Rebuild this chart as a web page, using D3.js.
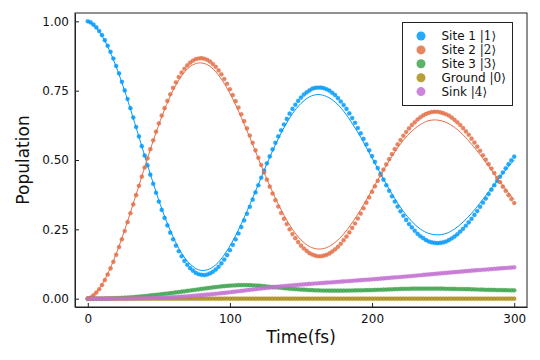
<!DOCTYPE html>
<html>
<head>
<meta charset="utf-8">
<script src="https://cdn.jsdelivr.net/npm/d3@7"></script>
<style>
body { margin: 0; background: white; }
text { font-family: "DejaVu Sans", sans-serif; }
</style>
</head>
<body>
<script>
// sampling grids (fs)
var time = d3.range(0, 301, 2);
var timeLine = d3.range(0, 301, 6);

// scatter series, one value per 2 fs
var site1 = [
1.000,0.996,0.988,0.978,0.965,0.950,0.932,0.912,0.890,0.866,
0.839,0.812,0.782,0.751,0.720,0.687,0.653,0.619,0.585,0.550,
0.516,0.481,0.447,0.414,0.382,0.350,0.320,0.291,0.264,0.238,
0.214,0.191,0.171,0.153,0.136,0.122,0.110,0.101,0.093,0.088,
0.086,0.085,0.087,0.091,0.097,0.105,0.115,0.127,0.141,0.157,
0.175,0.194,0.214,0.235,0.258,0.282,0.306,0.331,0.357,0.383,
0.409,0.436,0.462,0.488,0.513,0.538,0.562,0.585,0.607,0.628,
0.648,0.667,0.684,0.699,0.713,0.725,0.736,0.744,0.751,0.757,
0.760,0.761,0.761,0.759,0.755,0.750,0.742,0.734,0.723,0.711,
0.698,0.684,0.668,0.651,0.634,0.615,0.596,0.576,0.556,0.535,
0.514,0.493,0.471,0.450,0.429,0.409,0.389,0.369,0.350,0.332,
0.315,0.299,0.284,0.269,0.257,0.245,0.234,0.225,0.218,0.211,
0.206,0.203,0.201,0.200,0.201,0.203,0.206,0.211,0.217,0.224,
0.232,0.242,0.252,0.263,0.275,0.288,0.302,0.316,0.331,0.346,
0.361,0.377,0.393,0.409,0.424,0.440,0.455,0.470,0.485,0.499,
0.512];

var site2 = [
0.000,0.004,0.012,0.022,0.034,0.049,0.067,0.087,0.109,0.133,
0.158,0.186,0.214,0.244,0.276,0.308,0.340,0.373,0.407,0.440,
0.473,0.506,0.539,0.571,0.602,0.632,0.660,0.687,0.713,0.737,
0.760,0.780,0.799,0.815,0.829,0.841,0.851,0.858,0.864,0.866,
0.867,0.865,0.861,0.855,0.846,0.836,0.823,0.809,0.792,0.775,
0.755,0.734,0.712,0.689,0.665,0.640,0.614,0.588,0.562,0.535,
0.508,0.482,0.455,0.429,0.404,0.379,0.355,0.332,0.309,0.288,
0.269,0.250,0.233,0.218,0.204,0.191,0.181,0.172,0.164,0.159,
0.155,0.153,0.153,0.155,0.158,0.163,0.170,0.178,0.187,0.198,
0.211,0.224,0.239,0.255,0.271,0.289,0.307,0.326,0.346,0.365,
0.385,0.405,0.425,0.445,0.465,0.484,0.503,0.521,0.539,0.556,
0.572,0.587,0.601,0.614,0.626,0.636,0.646,0.654,0.661,0.666,
0.670,0.673,0.674,0.674,0.672,0.669,0.665,0.660,0.653,0.645,
0.636,0.626,0.615,0.603,0.591,0.577,0.563,0.548,0.533,0.517,
0.501,0.485,0.469,0.453,0.436,0.420,0.404,0.389,0.373,0.359,
0.345];

var site3 = [
0,0,0.0001,0.0002,0.0003,0.0005,0.0007,0.0010,0.0013,0.0016,
0.0020,0.0025,0.0031,0.0037,0.0043,0.0050,0.0058,0.0067,0.0076,0.0085,
0.0095,0.0106,0.0117,0.0128,0.0139,0.0150,0.0162,0.0174,0.0186,0.0198,
0.0210,0.0224,0.0238,0.0252,0.0266,0.0280,0.0294,0.0308,0.0322,0.0336,
0.0350,0.0364,0.0378,0.0392,0.0406,0.0419,0.0431,0.0442,0.0452,0.0461,
0.0469,0.0476,0.0482,0.0486,0.0489,0.0490,0.0489,0.0486,0.0481,0.0476,
0.0470,0.0460,0.0450,0.0440,0.0430,0.0420,0.0410,0.0400,0.0390,0.0380,
0.0370,0.0361,0.0353,0.0345,0.0337,0.0330,0.0323,0.0317,0.0311,0.0305,
0.0300,0.0297,0.0294,0.0292,0.0291,0.0290,0.0289,0.0289,0.0289,0.0289,
0.0290,0.0291,0.0293,0.0295,0.0297,0.0300,0.0302,0.0304,0.0306,0.0308,
0.0310,0.0314,0.0318,0.0322,0.0326,0.0330,0.0334,0.0338,0.0342,0.0346,
0.0350,0.0353,0.0355,0.0357,0.0359,0.0360,0.0361,0.0361,0.0362,0.0362,
0.0362,0.0362,0.0361,0.0361,0.0360,0.0359,0.0357,0.0355,0.0353,0.0351,
0.0349,0.0347,0.0345,0.0343,0.0341,0.0339,0.0335,0.0331,0.0327,0.0323,
0.0320,0.0318,0.0316,0.0314,0.0312,0.0310,0.0308,0.0306,0.0304,0.0302,
0.0300];

var ground = [
0,0,0,0,0,0,0,0,0,0, 0,0,0,0,0,0,0,0,0,0, 0,0,0,0,0,0,0,0,0,0,
0,0,0,0,0,0,0,0,0,0, 0,0,0,0,0,0,0,0,0,0, 0,0,0,0,0,0,0,0,0,0,
0,0,0,0,0,0,0,0,0,0, 0,0,0,0,0,0,0,0,0,0, 0,0,0,0,0,0,0,0,0,0,
0,0,0,0,0,0,0,0,0,0, 0,0,0,0,0,0,0,0,0,0, 0,0,0,0,0,0,0,0,0,0,
0,0,0,0,0,0,0,0,0,0, 0,0,0,0,0,0,0,0,0,0, 0,0,0,0,0,0,0,0,0,0,
0];

var sink = [
0,0,0,0,0,0,0.0001,0.0001,0.0001,0.0002,
0.0002,0.0003,0.0003,0.0004,0.0005,0.0006,0.0008,0.0009,0.0011,0.0013,
0.0016,0.0018,0.0021,0.0024,0.0027,0.0031,0.0035,0.0039,0.0044,0.0049,
0.0054,0.0060,0.0066,0.0072,0.0079,0.0086,0.0093,0.0101,0.0109,0.0117,
0.0126,0.0135,0.0145,0.0155,0.0165,0.0175,0.0186,0.0197,0.0209,0.0220,
0.0232,0.0244,0.0256,0.0268,0.0281,0.0293,0.0305,0.0318,0.0330,0.0342,
0.0354,0.0366,0.0377,0.0389,0.0400,0.0411,0.0422,0.0432,0.0442,0.0452,
0.0462,0.0471,0.0480,0.0489,0.0498,0.0506,0.0514,0.0523,0.0531,0.0539,
0.0547,0.0555,0.0562,0.0569,0.0577,0.0584,0.0591,0.0599,0.0606,0.0614,
0.0621,0.0629,0.0636,0.0644,0.0651,0.0659,0.0667,0.0675,0.0682,0.0690,
0.0698,0.0706,0.0714,0.0723,0.0731,0.0739,0.0748,0.0756,0.0765,0.0773,
0.0782,0.0791,0.0800,0.0809,0.0818,0.0827,0.0836,0.0845,0.0855,0.0864,
0.0873,0.0882,0.0891,0.0901,0.0910,0.0919,0.0928,0.0937,0.0947,0.0956,
0.0965,0.0974,0.0983,0.0991,0.1000,0.1009,0.1017,0.1026,0.1034,0.1043,
0.1051,0.1059,0.1067,0.1075,0.1083,0.1091,0.1099,0.1107,0.1115,0.1122,
0.1130];

// thin reference lines, one value per 6 fs
var line1 = [1.000,0.977,0.929,0.862,0.779,0.684,0.583,0.482,0.385,0.297,
0.223,0.164,0.125,0.104,0.104,0.122,0.158,0.208,0.270,0.339,
0.412,0.486,0.555,0.616,0.667,0.704,0.728,0.736,0.729,0.709,
0.676,0.632,0.582,0.526,0.469,0.413,0.361,0.315,0.278,0.251,
0.235,0.230,0.235,0.251,0.276,0.308,0.345,0.385,0.425,0.464,0.500];
var line2 = [0.000,0.023,0.070,0.136,0.218,0.311,0.408,0.506,0.599,0.682,
0.751,0.803,0.837,0.850,0.844,0.818,0.776,0.720,0.653,0.581,
0.505,0.431,0.362,0.301,0.250,0.212,0.188,0.179,0.184,0.203,
0.233,0.274,0.321,0.374,0.428,0.480,0.529,0.571,0.604,0.628,
0.642,0.644,0.636,0.618,0.591,0.557,0.519,0.478,0.435,0.395,0.357];

var names = ["Site 1 ", "Site 2 ", "Site 3 ", "Ground ", "Sink "];
var kets = ["|1\u27E9", "|2\u27E9", "|3\u27E9", "|0\u27E9", "|4\u27E9"];
var colours = ["#009AFA", "#E36F47", "#3EA44E", "#AC8E18", "#C371D2"];
var xTicks = [0, 100, 200, 300];
var yTicks = [0, 0.25, 0.5, 0.75, 1];

draw();
function draw(){
	var left = 75, right = 527, top = 13, bottom = 307;

	var svg = d3.select("body").append("svg")
		.attr("width", 540).attr("height", 360);
	svg.append("rect").attr("width", 540).attr("height", 360).attr("fill", "white");

	var x = d3.scaleLinear().domain([-9, 309]).range([left, right]);
	var y = d3.scaleLinear().domain([-0.03, 1.03]).range([bottom, top]);

	// frame
	svg.append("rect")
		.attr("x", left).attr("y", top).attr("width", right-left).attr("height", bottom-top)
		.attr("fill", "none").attr("stroke", "#222").attr("stroke-width", 1);

	var xAxis = svg.append("g").attr("transform", "translate(0," + bottom + ")")
		.call(d3.axisBottom(x).tickValues(xTicks).tickSizeInner(-4).tickSizeOuter(0).tickPadding(7.5));
	var yAxis = svg.append("g").attr("transform", "translate(" + left + ",0)")
		.call(d3.axisLeft(y).tickValues(yTicks).tickFormat(d3.format(".2f")).tickSizeInner(-4).tickSizeOuter(0).tickPadding(6));
	[xAxis, yAxis].forEach(function(a){
		a.attr("font-size", 12).attr("font-family", "DejaVu Sans");
		a.selectAll("path").attr("stroke", "#222");
		a.selectAll("line").attr("stroke", "#222");
		a.selectAll("text").attr("fill", "#111");
	});

	// scatter markers
	var series = [site1, site2, site3, ground, sink];
	series.forEach(function(vals, i){
		svg.append("g").selectAll("circle")
			.data(time.map(function(t, j){ return [t, vals[j]]; }))
			.enter().append("circle")
			.attr("cx", function(d){ return x(d[0]); })
			.attr("cy", function(d){ return y(d[1]); })
			.attr("r", 2.1)
			.attr("fill", colours[i]).attr("fill-opacity", 0.85)
			.attr("stroke", colours[i]).attr("stroke-opacity", 0.3).attr("stroke-width", 0.8);
	});

	// thin lines
	var line = d3.line().curve(d3.curveCatmullRom)
		.x(function(d){ return x(d[0]); }).y(function(d){ return y(d[1]); });
	[line1, line2].forEach(function(vals, i){
		svg.append("path")
			.datum(timeLine.map(function(t, j){ return [t, vals[j]]; }))
			.attr("d", line).attr("fill", "none")
			.attr("stroke", colours[i]).attr("stroke-width", 1);
	});

	// axis titles
	drawText("Time(fs)", (left+right)/2, 343, 17, "middle");
	svg.append("text").text("Population")
		.attr("transform", "translate(28.5," + (top+bottom)/2 + ") rotate(-90)")
		.attr("text-anchor", "middle").attr("font-size", 17).attr("fill", "#111");

	// legend
	svg.append("rect")
		.attr("x", 402.5).attr("y", 22.5).attr("width", 110).attr("height", 83)
		.attr("fill", "white").attr("stroke", "#222").attr("stroke-width", 1);
	names.forEach(function(n, i){
		var ly = 36 + i*13.9;
		svg.append("circle").attr("cx", 421).attr("cy", ly).attr("r", 4.5)
			.attr("fill", colours[i]).attr("fill-opacity", 0.85);
		var t = svg.append("text").attr("x", 441.5).attr("y", ly + 4.3)
			.attr("font-size", 12).attr("fill", "#111").text(n);
		t.append("tspan").attr("font-family", "DejaVu Serif").text(kets[i]);
	});

	function drawText(text, x0, y0, size, anchor){
		svg.append("text").attr("x", x0).attr("y", y0).text(text)
			.attr("font-size", size).attr("text-anchor", anchor).attr("fill", "#111");
	}
}
</script>
</body>
</html>
